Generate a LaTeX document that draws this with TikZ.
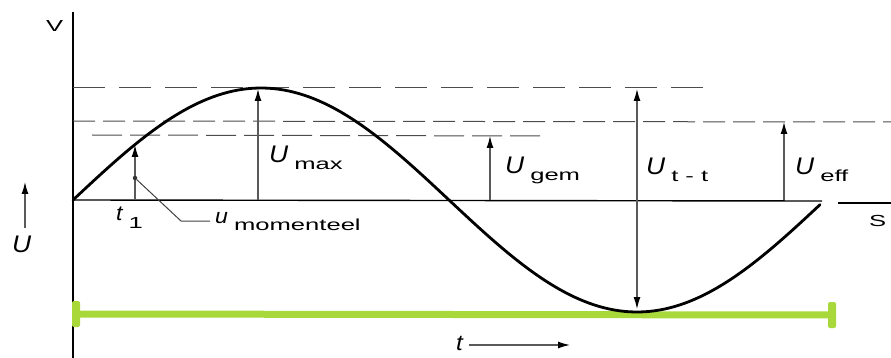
\documentclass[tikz,border=0pt]{standalone}
\usepackage{fontspec}
\newfontfamily\letterfont[FakeStretch=1.1]{Liberation Sans}
\newfontfamily\indexfont[FakeStretch=1.6]{Liberation Sans}
\usepackage{xcolor}
\definecolor{barGreen}{HTML}{A8D83A}
\usetikzlibrary{arrows.meta}
\newcommand{\quant}[3][24]{{\fontsize{#1}{#1}\selectfont\letterfont\itshape #2}\hspace{6pt}\raisebox{-7pt}{\fontsize{16}{16}\selectfont\indexfont #3}}

\begin{document}
\begin{tikzpicture}[
		x=1pt, y=-1pt,
		lbl/.style={anchor=base west, inner sep=0pt},
		sublbl/.style={anchor=base west, inner sep=0pt, font=\fontsize{16}{16}\selectfont\indexfont},
		curve/.style={line width=2.8pt, line cap=round},
		axis/.style={line width=1.4pt},
		guide/.style={line width=1pt, black!70, dash pattern=on 22pt off 8pt},
		arrow/.style={-{Latex[length=12pt,width=7pt,black]}, line width=1.2pt, black!65},
		dblarrow/.style={{Latex[length=12pt,width=7pt,black]}-{Latex[length=12pt,width=7pt,black]}, line width=1.2pt, black!65},
		leader/.style={line width=1pt, black!75},
		bar/.style={line width=7pt, barGreen},
		barend/.style={fill=barGreen, minimum width=8pt, minimum height=26pt, inner sep=0pt, rounded corners=2pt}
		]
		
		\useasboundingbox (0,0) rectangle (891,358);
		
		\coordinate (o) at (73,200);
		\coordinate (axtop) at (73,12);
		\coordinate (axbot) at (73,358);
		\coordinate (baseend) at (822,201);
		\coordinate (sstart) at (838,203);
		\coordinate (send) at (891,203);
		\draw[axis] (axtop) -- (axbot);
		\draw[axis] (o) -- (baseend);
		\draw[axis] (sstart) -- (send);
		
		\coordinate (maxL) at (73,88);
		\coordinate (maxR) at (707,88);
		\coordinate (effL) at (73,121);
		\coordinate (effR) at (891,122);
		\coordinate (gemL) at (92,135);
		\coordinate (gemR) at (547,136);
		\draw[guide, dash pattern=on 32pt off 14pt] (maxL) -- (maxR);
		\draw[guide] (effL) -- (effR);
		\draw[guide, dash pattern=on 30pt off 8pt] (gemL) -- (gemR);
		
		\node[barend] (barL) at (76,314) {};
		\node[barend] (barR) at (832,315) {};
		\draw[bar] (barL) -- (barR);
		
		\draw[curve] plot[domain=0:747, samples=150] ({73+\x},{200-112*sin(\x/752*360)});
		
		\coordinate (momfoot) at (135,200);
		\coordinate (momtip) at (135,145);
		\coordinate (maxfoot) at (258,200);
		\coordinate (maxtip) at (258,89);
		\coordinate (gemfoot) at (490,200);
		\coordinate (gemtip) at (490,136);
		\coordinate (tttop) at (637,89);
		\coordinate (ttbot) at (637,309);
		\coordinate (efffoot) at (784,200);
		\coordinate (efftip) at (784,122);
		\draw[arrow] (momfoot) -- (momtip);
		\draw[arrow] (maxfoot) -- (maxtip);
		\draw[arrow] (gemfoot) -- (gemtip);
		\draw[dblarrow] (tttop) -- (ttbot);
		\draw[arrow] (efffoot) -- (efftip);
		
		\node[circle, fill=black!80, inner sep=0pt, minimum size=4.5pt] (mdot) at (135,178) {};
		\coordinate (bend) at (181,221);
		\coordinate (lend) at (210,221);
		\draw[leader] (mdot) -- (bend) -- (lend);
		
		\node[sublbl] (vlbl) at (46,32) {V};
		\node[sublbl] (slbl) at (869,226) {S};
		\node[lbl] (umax) at (269,163) {\quant{U}{max}};
		\node[lbl] (ugem) at (505,174) {\quant{U}{gem}};
		\node[lbl] (utt) at (646,175) {\quant{U}{t - t}};
		\node[lbl] (ueff) at (795,175) {\quant{U}{eff}};
		\node[lbl] (tone) at (116,221) {\quant[21]{t}{1}};
		\node[lbl] (umom) at (215,223) {\quant[21]{u}{momenteel}};
		
		\node[lbl] (uaxis) at (12,252) {\fontsize{24}{24}\selectfont\letterfont\itshape U};
		\coordinate (uaxfoot) at (25,228);
		\coordinate (uaxtip) at (25,182);
		\draw[arrow] (uaxfoot) -- (uaxtip);
		
		\node[lbl] (tlbl) at (456,350) {\fontsize{22}{22}\selectfont\letterfont\itshape t};
		\coordinate (tend) at (570,345);
		\draw[arrow, shorten <=6pt] (tlbl.east |- tend) -- (tend);
		
	\end{tikzpicture}
\end{document}
